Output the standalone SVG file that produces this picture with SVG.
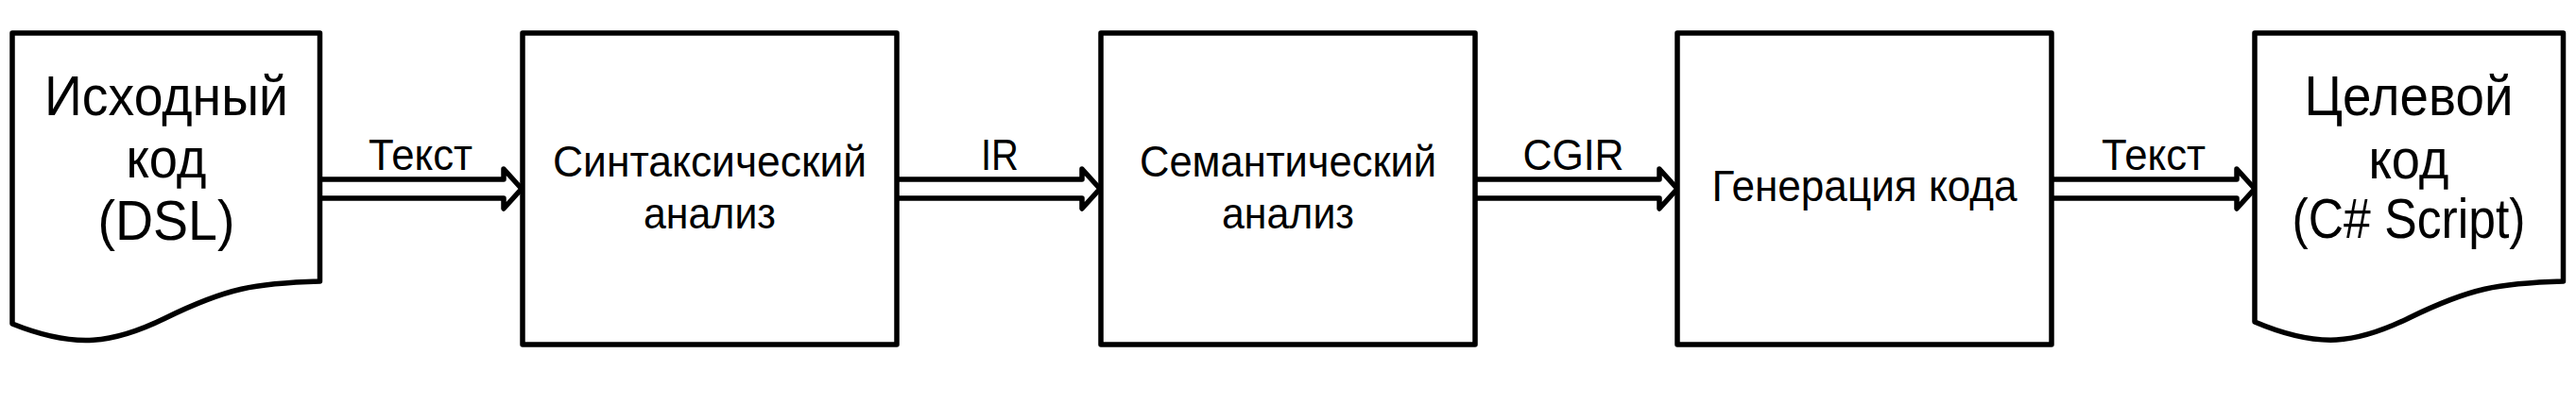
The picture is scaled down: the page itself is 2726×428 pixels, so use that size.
<svg xmlns="http://www.w3.org/2000/svg" width="2726" height="428" viewBox="0 0 2726 428">
<style>
.shape{fill:#fff;stroke:#000;stroke-width:5.5;stroke-linejoin:round;stroke-linecap:round}
.arrow{fill:#fff;stroke:#000;stroke-width:5.5;stroke-linejoin:round;stroke-linecap:round}
text{font-family:"Liberation Sans",Arial,sans-serif;fill:#000;text-anchor:middle}
.big{font-size:59px}
.mid{font-size:46px}
</style>
<rect width="2726" height="428" fill="#fff"/>
<g id="connectors">
<path class="arrow" d="M338.5,190 H533 V179 L552,200 L533,221 V210 H338.5"/>
<text class="mid" x="445" y="180" textLength="110" lengthAdjust="spacingAndGlyphs">Текст</text>
<path class="arrow" d="M949,190 H1145 V179 L1164,200 L1145,221 V210 H949"/>
<text class="mid" x="1058" y="180" textLength="40" lengthAdjust="spacingAndGlyphs">IR</text>
<path class="arrow" d="M1561,190 H1756 V179 L1775,200 L1756,221 V210 H1561"/>
<text class="mid" x="1665" y="180" textLength="107" lengthAdjust="spacingAndGlyphs">CGIR</text>
<path class="arrow" d="M2171,190 H2367 V179 L2386,200 L2367,221 V210 H2171"/>
<text class="mid" x="2279" y="180" textLength="110" lengthAdjust="spacingAndGlyphs">Текст</text>
</g>
<g id="source">
<path class="shape" d="M13,35 H338.5 V298 C270,300 240,305 175,337 C120,364 80,370 13,343 Z"/>
<text class="big" x="176" y="122" textLength="258" lengthAdjust="spacingAndGlyphs">Исходный</text>
<text class="big" x="176" y="188" textLength="85" lengthAdjust="spacingAndGlyphs">код</text>
<text class="big" x="176" y="254" textLength="145" lengthAdjust="spacingAndGlyphs">(DSL)</text>
</g>
<g id="syntax">
<rect class="shape" x="553" y="35" width="396" height="330"/>
<text class="mid" x="751" y="187" textLength="332" lengthAdjust="spacingAndGlyphs">Синтаксический</text>
<text class="mid" x="751" y="242" textLength="140" lengthAdjust="spacingAndGlyphs">анализ</text>
</g>
<g id="semantic">
<rect class="shape" x="1165" y="35" width="396" height="330"/>
<text class="mid" x="1363" y="187" textLength="314" lengthAdjust="spacingAndGlyphs">Семантический</text>
<text class="mid" x="1363" y="242" textLength="140" lengthAdjust="spacingAndGlyphs">анализ</text>
</g>
<g id="codegen">
<rect class="shape" x="1775" y="35" width="396" height="330"/>
<text class="mid" x="1973" y="213" textLength="323" lengthAdjust="spacingAndGlyphs">Генерация кода</text>
</g>
<g id="target">
<path class="shape" d="M2386,35 H2712.5 V298 C2644,300 2614,305 2549,337 C2494,364 2454,370 2386,341 Z"/>
<text class="big" x="2549" y="122" textLength="221" lengthAdjust="spacingAndGlyphs">Целевой</text>
<text class="big" x="2549" y="189" textLength="85" lengthAdjust="spacingAndGlyphs">код</text>
<text class="big" x="2549" y="252" textLength="247" lengthAdjust="spacingAndGlyphs">(C# Script)</text>
</g>
</svg>
